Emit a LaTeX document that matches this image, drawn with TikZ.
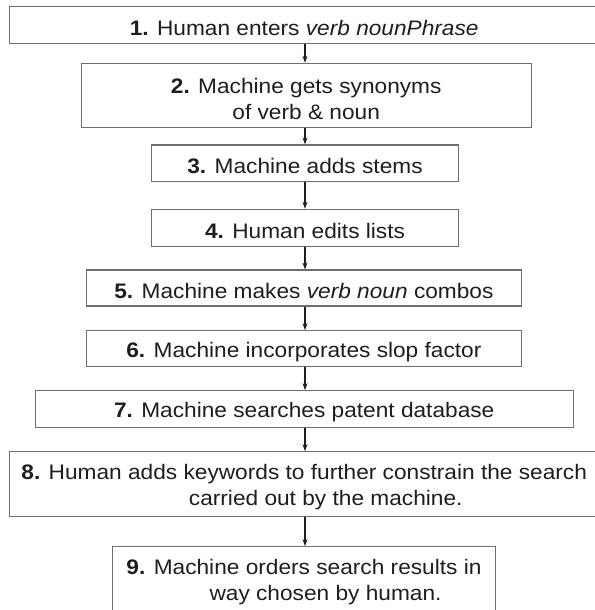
\documentclass[tikz,border=0pt]{standalone}
\usepackage{fontspec}
\setmainfont[FakeStretch=1.08]{Liberation Sans}
\usetikzlibrary{arrows.meta}
\definecolor{frame}{HTML}{6E6E6E}
\definecolor{ink}{HTML}{1E1E1E}
\tikzset{
  stepbox/.style={draw=frame, line width=1.1pt, fill=white, inner sep=0pt},
  steptext/.style={text=ink, inner sep=0pt, align=center,
    font=\fontsize{21}{26}\selectfont},
  flow/.style={draw=ink, line width=1.3pt, -{Stealth[length=7pt,width=5pt]}},
}
\newcommand{\stepno}[1]{\textbf{#1.}}
% one step: name, centre x, centre y, width, height, text
\newcommand{\flowstep}[6]{%
  \node[stepbox, minimum width=#4pt, minimum height=#5pt] (#1) at (#2,#3) {};
  \node[steptext] (#1t) at ([yshift=-3.2pt]#1.center) {#6};
}
\begin{document}
\begin{tikzpicture}[x=1pt,y=-1pt]
  \useasboundingbox (0,0) rectangle (594,610);
  \fill[white] (0,0) rectangle (594,610);
  \coordinate (ax) at (305,0);
  \flowstep{b1}{304.2}{25}{589.7}{36.6}
    {\stepno{1} Human enters \textit{verb nounPhrase}}
  \flowstep{b2}{306.2}{95.3}{450.3}{64}
    {\stepno{2} Machine gets synonyms\\of verb \& noun}
  \flowstep{b3}{305}{163.3}{306.6}{36.7}
    {\stepno{3} Machine adds stems}
  \flowstep{b4}{305}{228}{306.6}{37.4}
    {\stepno{4} Human edits lists}
  \flowstep{b5}{303.9}{288}{435.7}{36}
    {\stepno{5} Machine makes \textit{verb noun} combos}
  \flowstep{b6}{303.9}{348.7}{435.7}{36}
    {\stepno{6} Machine incorporates slop factor}
  \flowstep{b7}{304.2}{409}{538.3}{36.6}
    {\stepno{7} Machine searches patent database}
  \flowstep{b8}{304.2}{483.9}{589.7}{64.3}
    {\stepno{8} Human adds keywords to further constrain the search\\\hspace*{43pt}carried out by the machine.}
  \flowstep{b9}{304}{578.8}{383.4}{64.3}
    {\stepno{9} Machine orders search results in\\\hspace*{43pt}way chosen by human.}
  \foreach \a/\b in {b1/b2,b2/b3,b3/b4,b4/b5,b5/b6,b6/b7,b7/b8,b8/b9}
    \draw[flow] (\a.south -| ax) -- (\b.north -| ax);
\end{tikzpicture}
\end{document}
